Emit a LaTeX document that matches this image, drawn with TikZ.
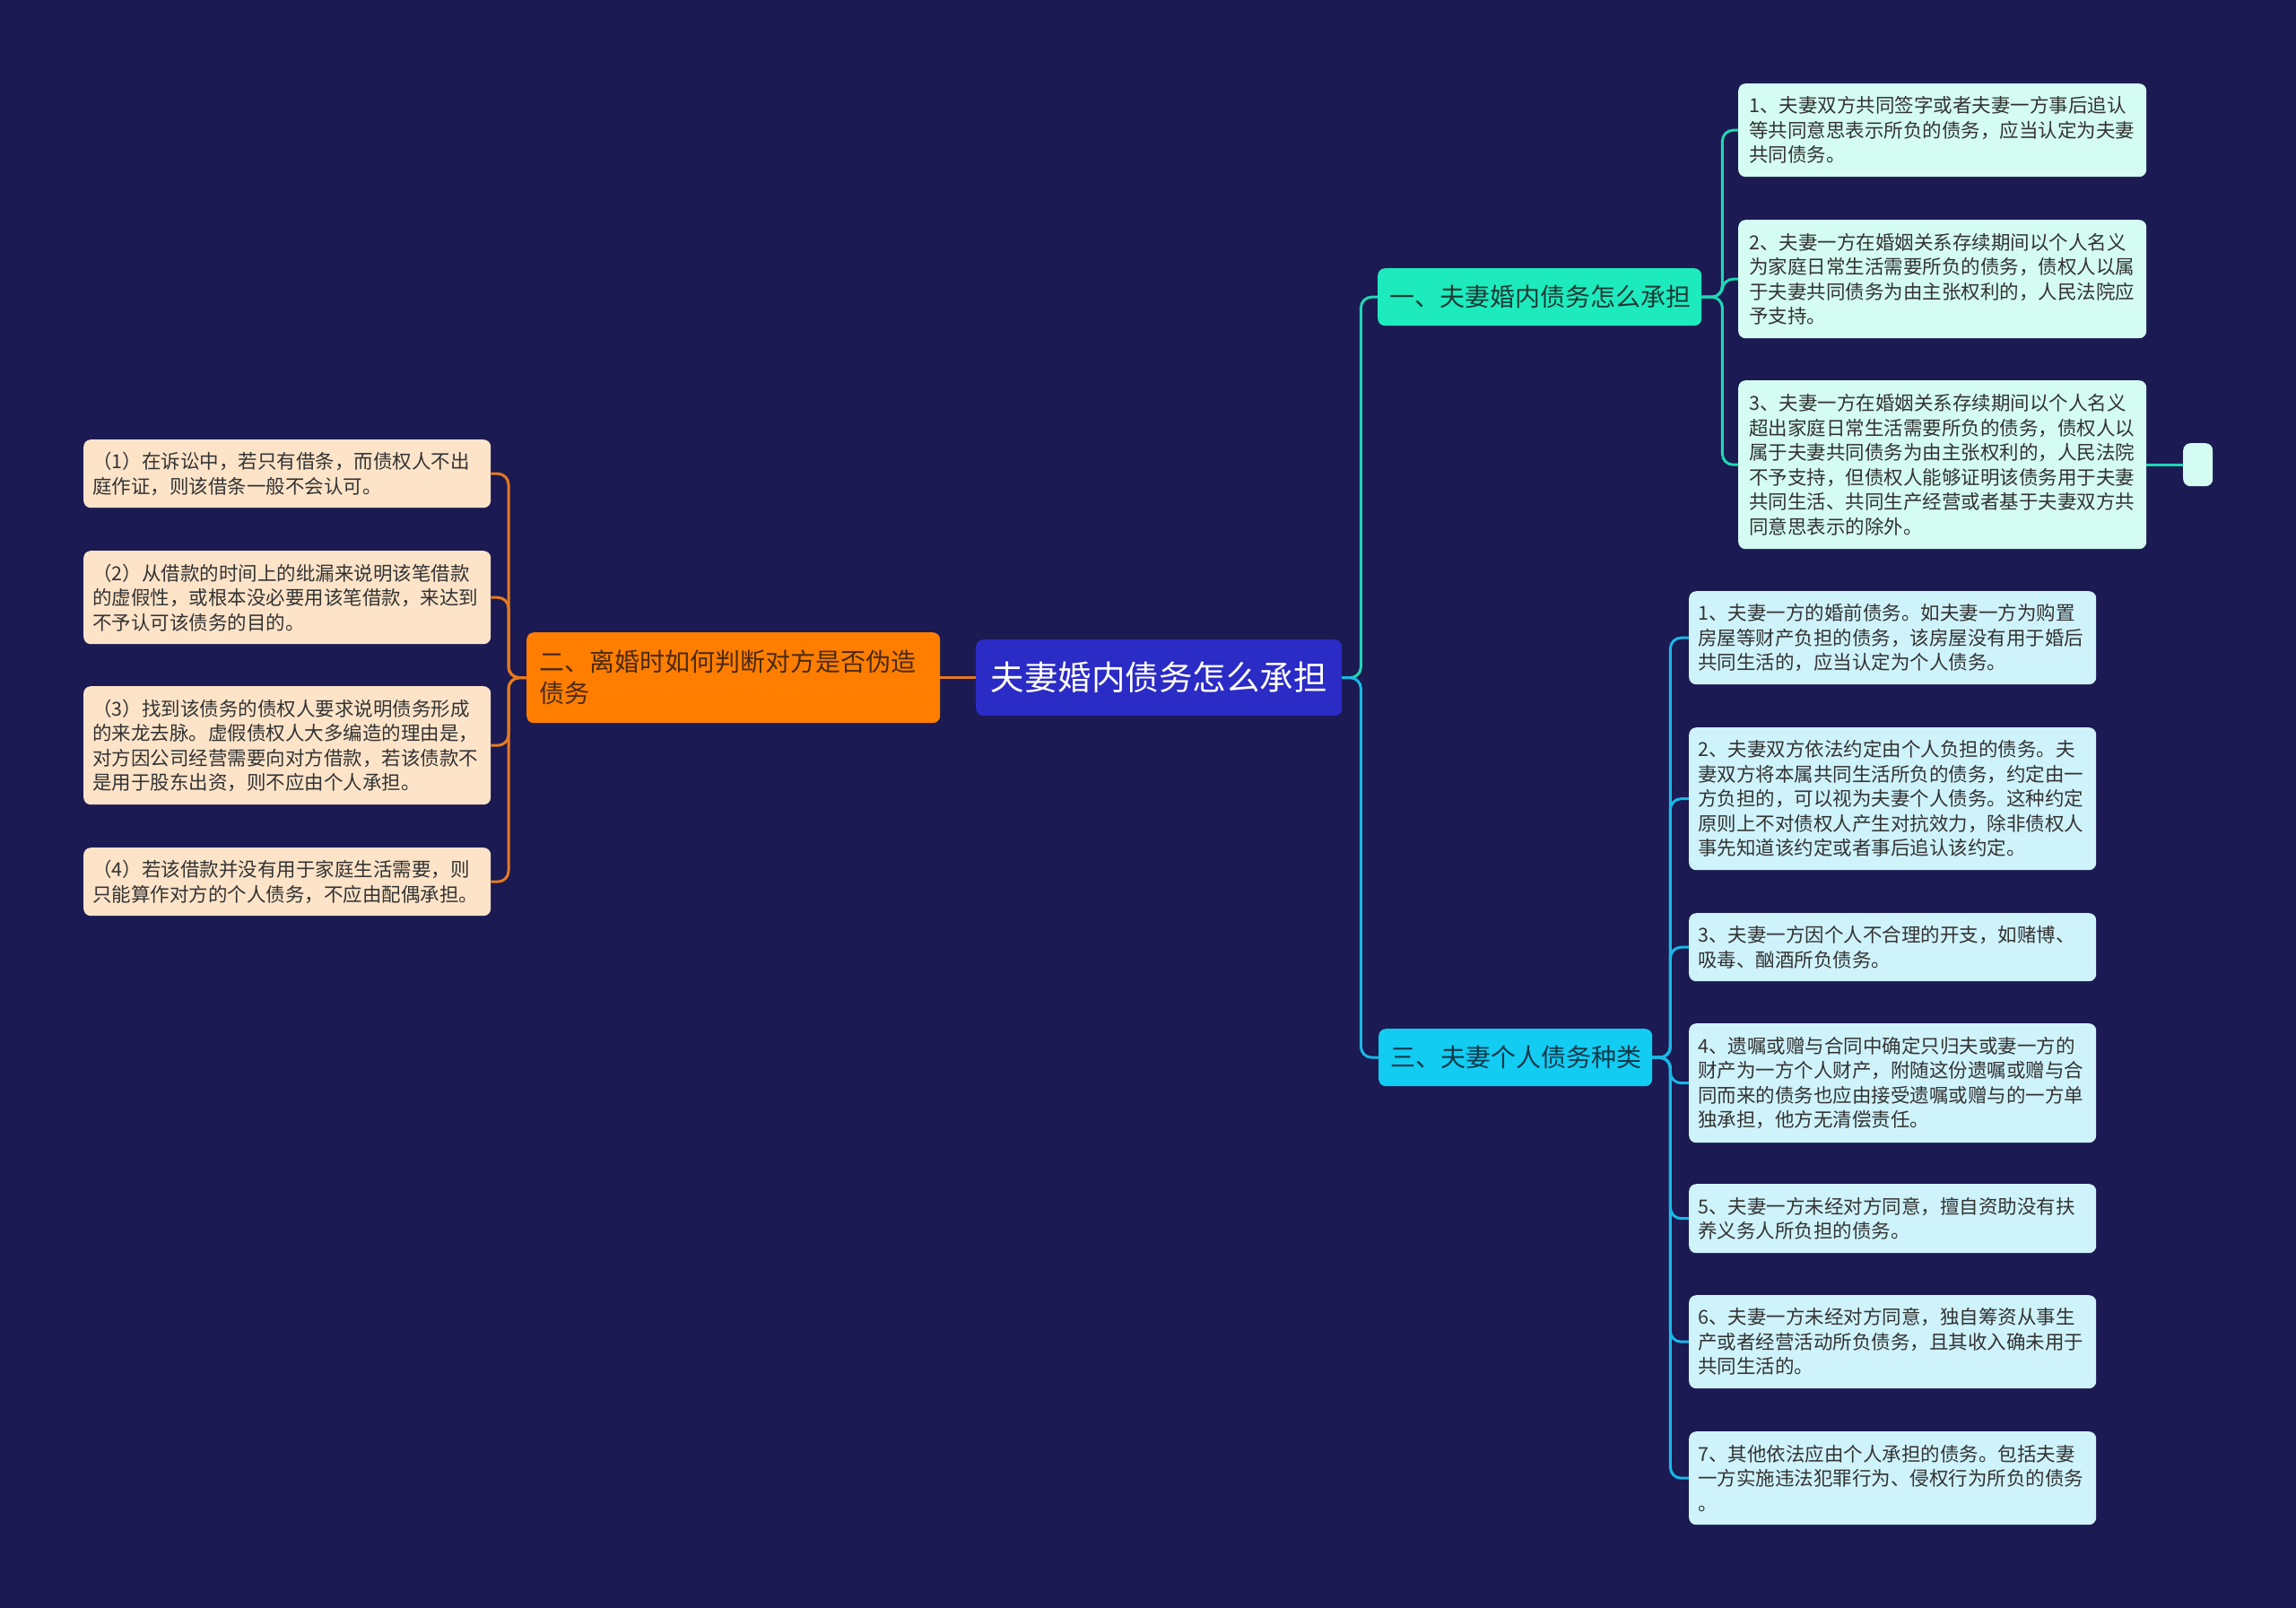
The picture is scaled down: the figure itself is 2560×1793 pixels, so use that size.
\documentclass[tikz,border=0pt]{standalone}
\usepackage{fontspec}
\setmainfont{Noto Sans CJK SC}
\definecolor{bgcol}{HTML}{1B1A52}
\definecolor{rootfill}{HTML}{2B2BC6}
\definecolor{orangefill}{HTML}{FF7E00}
\definecolor{tealfill}{HTML}{1DEBBE}
\definecolor{cyanfill}{HTML}{12CCF2}
\definecolor{mintleaf}{HTML}{D4FCF2}
\definecolor{cyanleaf}{HTML}{CFF3FB}
\definecolor{peachleaf}{HTML}{FDE4C9}
\definecolor{leaftext}{HTML}{333333}
\definecolor{orangetext}{HTML}{4A2A10}
\definecolor{tealtext}{HTML}{1B3B36}
\definecolor{cyantext}{HTML}{10384A}
\definecolor{orangeline}{HTML}{E67A1E}
\definecolor{tealline}{HTML}{1ED8B4}
\definecolor{cyanline}{HTML}{1AB8E6}
\begin{document}
\begin{tikzpicture}[x=1pt,y=-1pt,
  box/.style={rounded corners=8pt, anchor=north west, inner ysep=0pt, align=left},
  leafbase/.style={box, text=leaftext, font=\fontsize{21.5}{27.5}\selectfont},
  mintbox/.style={leafbase, fill=mintleaf, inner xsep=12pt, minimum width=455pt, text width=431pt},
  cyanbox/.style={leafbase, fill=cyanleaf, inner xsep=10pt, minimum width=454pt, text width=434pt},
  peachbox/.style={leafbase, fill=peachleaf, inner xsep=10pt, minimum width=454pt, text width=434pt},
  conn/.style={line width=3pt, rounded corners=12pt},
]
\fill[bgcol] (0,0) rectangle (2560,1793);

% root and main branches
\node[box, fill=rootfill, text=white, font=\fontsize{37.5}{45}\selectfont, minimum width=408pt, minimum height=85pt, inner xsep=0pt, align=center] (root) at (1088,713) {夫妻婚内债务怎么承担};
\node[box, fill=orangefill, text=orangetext, font=\fontsize{28}{35}\selectfont, minimum width=461pt, minimum height=101pt, inner xsep=14pt, text width=433pt] (b2) at (587,705) {二、离婚时如何判断对方是否伪造\\债务};
\node[box, fill=tealfill, text=tealtext, font=\fontsize{28}{34}\selectfont, minimum width=361pt, minimum height=64pt, inner xsep=13pt, text width=335pt] (b1) at (1536,299) {一、夫妻婚内债务怎么承担};
\node[box, fill=cyanfill, text=cyantext, font=\fontsize{28}{34}\selectfont, minimum width=305pt, minimum height=64pt, inner xsep=13pt, text width=279pt] (b3) at (1537,1147) {三、夫妻个人债务种类};

% branch 1 children
\node[mintbox, minimum height=104pt] (c11) at (1938,93) {1、夫妻双方共同签字或者夫妻一方事后追认\\等共同意思表示所负的债务，应当认定为夫妻\\共同债务。};
\node[mintbox, minimum height=132pt] (c12) at (1938,245) {2、夫妻一方在婚姻关系存续期间以个人名义\\为家庭日常生活需要所负的债务，债权人以属\\于夫妻共同债务为由主张权利的，人民法院应\\予支持。};
\node[mintbox, minimum height=188pt] (c13) at (1938,424) {3、夫妻一方在婚姻关系存续期间以个人名义\\超出家庭日常生活需要所负的债务，债权人以\\属于夫妻共同债务为由主张权利的，人民法院\\不予支持，但债权人能够证明该债务用于夫妻\\共同生活、共同生产经营或者基于夫妻双方共\\同意思表示的除外。};
\node[box, fill=mintleaf, minimum width=33pt, minimum height=48pt, inner xsep=0pt] (c13x) at (2434,494) {};

% branch 3 children
\node[cyanbox, minimum height=104pt] (c31) at (1883,659) {1、夫妻一方的婚前债务。如夫妻一方为购置\\房屋等财产负担的债务，该房屋没有用于婚后\\共同生活的，应当认定为个人债务。};
\node[cyanbox, minimum height=159pt] (c32) at (1883,811) {2、夫妻双方依法约定由个人负担的债务。夫\\妻双方将本属共同生活所负的债务，约定由一\\方负担的，可以视为夫妻个人债务。这种约定\\原则上不对债权人产生对抗效力，除非债权人\\事先知道该约定或者事后追认该约定。};
\node[cyanbox, minimum height=76pt] (c33) at (1883,1018) {3、夫妻一方因个人不合理的开支，如赌博、\\吸毒、酗酒所负债务。};
\node[cyanbox, minimum height=133pt] (c34) at (1883,1141) {4、遗嘱或赠与合同中确定只归夫或妻一方的\\财产为一方个人财产，附随这份遗嘱或赠与合\\同而来的债务也应由接受遗嘱或赠与的一方单\\独承担，他方无清偿责任。};
\node[cyanbox, minimum height=77pt] (c35) at (1883,1320) {5、夫妻一方未经对方同意，擅自资助没有扶\\养义务人所负担的债务。};
\node[cyanbox, minimum height=104pt] (c36) at (1883,1444) {6、夫妻一方未经对方同意，独自筹资从事生\\产或者经营活动所负债务，且其收入确未用于\\共同生活的。};
\node[cyanbox, minimum height=104pt] (c37) at (1883,1596) {7、其他依法应由个人承担的债务。包括夫妻\\一方实施违法犯罪行为、侵权行为所负的债务\\。};

% branch 2 children
\node[peachbox, minimum height=76pt] (l1) at (93,490) {（1）在诉讼中，若只有借条，而债权人不出\\庭作证，则该借条一般不会认可。};
\node[peachbox, minimum height=104pt] (l2) at (93,614) {（2）从借款的时间上的纰漏来说明该笔借款\\的虚假性，或根本没必要用该笔借款，来达到\\不予认可该债务的目的。};
\node[peachbox, minimum height=132pt] (l3) at (93,765) {（3）找到该债务的债权人要求说明债务形成\\的来龙去脉。虚假债权人大多编造的理由是，\\对方因公司经营需要向对方借款，若该债款不\\是用于股东出资，则不应由个人承担。};
\node[peachbox, minimum height=76pt] (l4) at (93,945) {（4）若该借款并没有用于家庭生活需要，则\\只能算作对方的个人债务，不应由配偶承担。};

% connectors
\draw[conn, tealline] (root.east) -- ++(21,0) |- (b1.west);
\draw[conn, cyanline] (root.east) -- ++(21,0) |- (b3.west);
\draw[conn, orangeline] (root.west) -- (b2.east);
\foreach \c in {c11,c12,c13}
  \draw[conn, tealline] (b1.east) -- ++(23,0) |- (\c.west);
\draw[conn, tealline] (c13.east) -- (c13x.west);
\foreach \c in {c31,c32,c33,c34,c35,c36,c37}
  \draw[conn, cyanline] (b3.east) -- ++(20,0) |- (\c.west);
\foreach \c in {l1,l2,l3,l4}
  \draw[conn, orangeline] (b2.west) -- ++(-20,0) |- (\c.east);
\end{tikzpicture}
\end{document}
